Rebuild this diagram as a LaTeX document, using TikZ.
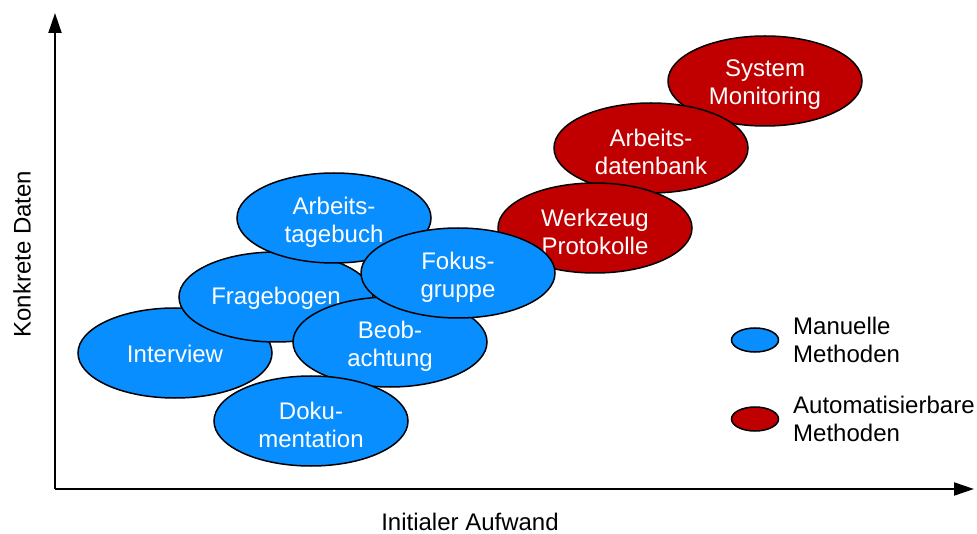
\documentclass[tikz,border=0pt]{standalone}
\usepackage{fontspec}
\setmainfont{Liberation Sans}
\usetikzlibrary{shapes.geometric,arrows.meta}
\definecolor{manblue}{RGB}{8,142,255}
\definecolor{autored}{RGB}{192,0,0}
\tikzset{
  labelfont/.style={font=\fontsize{24}{28}\selectfont},
  methodtext/.style={labelfont, text=white, align=center, inner sep=0pt,
    label distance=0pt, yshift=-4pt},
  methodshape/.style={ellipse, draw=black, line width=1.5pt,
    minimum width=194pt, minimum height=90pt, inner sep=0pt},
  % two-line captions
  method/.style={methodshape, label={[methodtext]center:{#1}}},
  % one-line captions sit a little higher
  methodone/.style={methodshape, label={[methodtext, yshift=3pt]center:{#1}}},
  manual/.style={method={#1}, fill=manblue},
  manualone/.style={methodone={#1}, fill=manblue},
  auto/.style={method={#1}, fill=autored},
  keymark/.style={ellipse, draw=black, line width=1.5pt, minimum width=47pt,
    minimum height=24pt, inner sep=0pt},
  keytext/.style={labelfont, anchor=west, align=left, inner sep=0pt},
  axis/.style={line width=2pt, -{Triangle[width=13pt,length=20pt]}},
  axislabel/.style={labelfont, inner sep=0pt}
}
\begin{document}
\begin{tikzpicture}[x=1pt,y=-1pt]
\useasboundingbox (0,0) rectangle (977,534);

% axes
\coordinate (origin) at (55,489);
\coordinate (ytop) at (55,13);
\coordinate (xend) at (974,489);
\draw[axis] (origin) -- (ytop);
\draw[axis] (origin) -- (xend);
\node[axislabel, rotate=90] (ylab) at (22,254) {Konkrete Daten};
\node[axislabel] (xlab) at (470,522) {Initialer Aufwand};

% automatable methods
\node[auto={System\\Monitoring}] (sysmon) at (765,81) {};
\node[auto={Arbeits-\\datenbank}] (adb) at (651,148) {};
\node[auto={Werkzeug\\Protokolle}] (wzp) at (595,228) {};

% manual methods
\node[manualone={Interview}] (interview) at (175,353) {};
\node[manualone={Fragebogen}] (frage) at (276,297) {};
\node[manual={Arbeits-\\tagebuch}] (atb) at (334,218) {};
\node[manual={Beob-\\achtung}] (beob) at (390,342) {};
\node[manual={Fokus-\\gruppe}] (fokus) at (458,273) {};
\node[manual={Doku-\\mentation}] (doku) at (311,421) {};

% legend
\node[keymark, fill=manblue] (keyman) at (755,340) {};
\node[keytext] (keymantext) at (793,340) {Manuelle\\Methoden};
\node[keymark, fill=autored] (keyauto) at (755,419) {};
\node[keytext] (keyautotext) at (793,419) {Automatisierbare\\Methoden};
\end{tikzpicture}
\end{document}
